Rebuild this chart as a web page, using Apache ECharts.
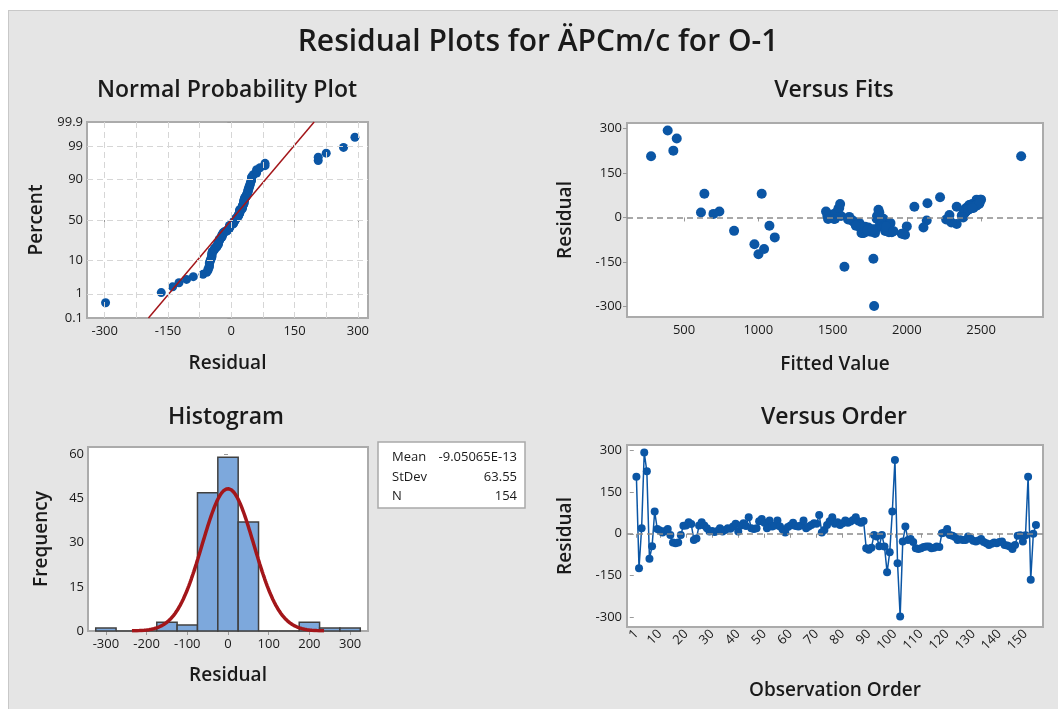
<!DOCTYPE html>
<html>
<head>
<meta charset="utf-8">
<script src="https://cdn.jsdelivr.net/npm/echarts@6/dist/echarts.min.js"></script>
<style>
html, body { margin: 0; padding: 0; background: #fff; }
#bg { position: absolute; left: 8px; top: 10px; right: 0; bottom: 0; background: #e5e5e5; border-top: 1px solid #c8c8c8; border-left: 1px solid #c8c8c8; }
#chart { position: absolute; left: 0; top: 0; width: 1058px; height: 709px; }
</style>
</head>
<body>
<div id="bg"></div>
<div id="chart"></div>
<script>
const mainTitle = 'Residual Plots for ÄPCm/c for O-1';

// residuals in observation order
const residuals = [
  206, -124, 20, 293, 225, -90, -45, 80, 17, 12,
  5, 10, 17, -4, -31, -34, -31, -4, 29, 30,
  42, 35, -22, -17, 30, 42, 30, 20, 8, 10,
  6, 10, 20, 8, 14, 20, 18, 26, 36, 8,
  30, 38, 28, 60, 20, 17, 20, 45, 53, 40,
  20, 48, 26, 30, 48, 26, 15, 5, 24, 30,
  40, 28, 26, 30, 48, 20, 26, 32, 38, 36,
  68, 5, 14, 32, 45, 60, 36, 42, 32, 38,
  48, 40, 44, 50, 60, 44, 40, 46, -52, -58,
  -50, -4, -10, -45, -4, -46, -139, -67, 80, 266,
  -106, -298, -28, 26, -22, -19, -30, -52, -55, -52,
  -48, -46, -46, -52, -50, -46, -48, 2, 5, 17,
  -4, -7, -12, -22, -20, -22, -22, -10, -18, -25,
  -28, -24, -19, -30, -34, -40, -36, -31, -34, -30,
  -28, -40, -42, -46, -55, -40, -7, -5, -28, -5,
  206, -166, 0, 32
];

// fitted values, same order
const fitted = [
  278, 1001, 738, 390, 428, 974, 837, 637, 614, 698,
  1465, 1501, 1528, 1517, 1685, 1741, 1719, 1607, 1539, 2400,
  2420, 2410, 2336, 2300, 2395, 2430, 2405, 2385, 2375, 2380,
  2370, 2382, 2392, 2287, 2388, 2398, 2390, 2402, 2051, 2378,
  2415, 2425, 2408, 2470, 2396, 2386, 2394, 2440, 2485, 2435,
  1456, 2460, 2412, 2418, 2465, 2406, 2384, 2372, 2404, 2422,
  2438, 2414, 2410, 2428, 2139, 2396, 2412, 2432, 2445, 2442,
  2224, 1557, 1520, 1545, 1551, 2495, 2336, 2450, 2448, 2455,
  2478, 2462, 2472, 2490, 2500, 2480, 2468, 2488, 1703, 1988,
  1899, 1797, 1629, 1854, 1842, 1865, 1775, 1111, 1023, 451,
  1039, 1780, 1075, 1809, 1820, 1681, 1831, 1710, 1966, 1786,
  1760, 1741, 1870, 1695, 1880, 1750, 1725, 1612, 1800, 1815,
  1620, 2265, 1640, 1887, 1660, 1825, 1835, 2134, 1648, 1672,
  1845, 1665, 1890, 2000, 2112, 1730, 1690, 1850, 1700, 1860,
  1678, 1790, 1735, 1910, 1975, 1770, 1605, 1470, 1657, 1510,
  2770, 1580, 2380, 2440
];

const histCenters = [-300, -250, -200, -150, -100, -50, 0, 50, 100, 150, 200, 250, 300];
const histCounts = [1, 0, 0, 3, 2, 47, 59, 37, 0, 0, 3, 1, 1];
const binWidth = 50;

const statMean = -9.05065e-13;
const statMeanText = '-9.05065E-13';
const statStDev = 63.55;
const statN = 154;
const curveFrom = -236, curveTo = 236;

const pctTicks = [0.1, 1, 10, 50, 90, 99, 99.9];
const residTicks = [-300, -150, 0, 150, 300];
const normGridX = [-300, -225, -150, -75, 0, 75, 150, 225, 300];
const fitTicks = [500, 1000, 1500, 2000, 2500];
const histTicks = [-300, -200, -100, 0, 100, 200, 300];
const freqTicks = [0, 15, 30, 45, 60];
const orderTicks = [1, 10, 20, 30, 40, 50, 60, 70, 80, 90, 100, 110, 120, 130, 140, 150];

const FONT = "'Open Sans', 'Noto Sans', sans-serif";
const INK = '#1a1a1a';
const BLUE = '#0b56a5';
const RED = '#a3161a';

// inverse normal cdf (Acklam), used for the probability axis
function probit(p) {
  const a = [-3.969683028665376e+01, 2.209460984245205e+02, -2.759285104469687e+02, 1.383577518672690e+02, -3.066479806614716e+01, 2.506628277459239e+00];
  const b = [-5.447609879822406e+01, 1.615858368580409e+02, -1.556989798598866e+02, 6.680131188771972e+01, -1.328068155288572e+01];
  const c = [-7.784894002430293e-03, -3.223964580411365e-01, -2.400758277161838e+00, -2.549732539343734e+00, 4.374664141464968e+00, 2.938163982698783e+00];
  const d = [7.784695709041462e-03, 3.224671290700398e-01, 2.445134137142996e+00, 3.754408661907416e+00];
  const plow = 0.02425;
  let q, r;
  if (p < plow) {
    q = Math.sqrt(-2 * Math.log(p));
    return (((((c[0]*q+c[1])*q+c[2])*q+c[3])*q+c[4])*q+c[5]) / ((((d[0]*q+d[1])*q+d[2])*q+d[3])*q+1);
  }
  if (p <= 1 - plow) {
    q = p - 0.5; r = q * q;
    return (((((a[0]*r+a[1])*r+a[2])*r+a[3])*r+a[4])*r+a[5])*q / (((((b[0]*r+b[1])*r+b[2])*r+b[3])*r+b[4])*r+1);
  }
  q = Math.sqrt(-2 * Math.log(1 - p));
  return -(((((c[0]*q+c[1])*q+c[2])*q+c[3])*q+c[4])*q+c[5]) / ((((d[0]*q+d[1])*q+d[2])*q+d[3])*q+1);
}

const zTicks = pctTicks.map(p => probit(p / 100));
const zLo = zTicks[0], zHi = zTicks[zTicks.length - 1];

const n = residuals.length;
const sorted = residuals.slice().sort((a, b) => a - b);
const normPts = sorted.map((r, i) => [r, probit((i + 1 - 0.3) / (n + 0.4))]);
const normLine = [[statMean + statStDev * zLo, zLo], [statMean + statStDev * zHi, zHi]];

const histData = histCenters.map((c, i) => [c - binWidth / 2, c + binWidth / 2, histCounts[i]]);
const curve = [];
for (let x = curveFrom; x <= curveTo; x += 2) {
  const z = (x - statMean) / statStDev;
  curve.push([x, statN * binWidth / (statStDev * Math.sqrt(2 * Math.PI)) * Math.exp(-0.5 * z * z)]);
}

const fitsPts = fitted.map((f, i) => [f, residuals[i]]);
const orderPts = residuals.map((r, i) => [i + 1, r]);

const grid = { show: true, backgroundColor: '#fff', borderColor: '#ababab', borderWidth: 2, outerBoundsMode: 'none' };
const tick = { show: true, length: 4, lineStyle: { color: '#9a9a9a' } };
const lbl = { color: INK, fontSize: 13, fontFamily: FONT };
const nameStyle = { color: INK, fontSize: 19, fontWeight: 600, fontFamily: FONT };
const titleStyle = { color: INK, fontSize: 23, fontWeight: 600, fontFamily: FONT };
const boxFont = '13px ' + FONT;

function axis(gi, min, max, o) {
  return Object.assign({
    type: 'value', gridIndex: gi, min: min, max: max,
    axisLine: { show: false }, splitLine: { show: false },
    nameLocation: 'middle', nameTextStyle: nameStyle
  }, o);
}

const zeroLine = {
  silent: true, symbol: 'none', label: { show: false },
  lineStyle: { color: '#8c8c8c', type: [6, 4], width: 1.5 },
  data: [{ yAxis: 0 }]
};

const chart = echarts.init(document.getElementById('chart'));
chart.setOption({
  animation: false,
  textStyle: { fontFamily: FONT },
  title: [
    { text: mainTitle, left: 538, top: 27, textAlign: 'center', padding: 0, textStyle: Object.assign({}, titleStyle, { fontSize: 30 }) },
    { text: 'Normal Probability Plot', left: 227, top: 79, textAlign: 'center', padding: 0, textStyle: titleStyle },
    { text: 'Versus Fits', left: 834, top: 79, textAlign: 'center', padding: 0, textStyle: titleStyle },
    { text: 'Histogram', left: 226, top: 406, textAlign: 'center', padding: 0, textStyle: titleStyle },
    { text: 'Versus Order', left: 834, top: 406, textAlign: 'center', padding: 0, textStyle: titleStyle }
  ],
  grid: [
    Object.assign({ left: 87, top: 122, width: 281, height: 196 }, grid),
    Object.assign({ left: 627, top: 123, width: 416, height: 194 }, grid),
    Object.assign({ left: 88, top: 447, width: 280, height: 184 }, grid),
    Object.assign({ left: 627, top: 445, width: 416, height: 182 }, grid)
  ],
  xAxis: [
    axis(0, -342, 324, { name: 'Residual', nameGap: 36,
      axisTick: Object.assign({ customValues: residTicks }, tick),
      axisLabel: Object.assign({ customValues: residTicks, margin: 7 }, lbl) }),
    axis(1, 116, 2917, { name: 'Fitted Value', nameGap: 38,
      axisTick: Object.assign({ customValues: fitTicks }, tick),
      axisLabel: Object.assign({ customValues: fitTicks, margin: 7, formatter: v => String(v) }, lbl) }),
    axis(2, -344, 344, { name: 'Residual', nameGap: 35,
      axisTick: Object.assign({ customValues: histTicks }, tick),
      axisLabel: Object.assign({ customValues: histTicks, margin: 7 }, lbl) }),
    axis(3, -2.6, 156.7, { name: 'Observation Order', nameGap: 54,
      axisTick: Object.assign({ customValues: orderTicks }, tick),
      axisLabel: Object.assign({ customValues: orderTicks, margin: 5, rotate: 45 }, lbl) })
  ],
  yAxis: [
    axis(0, zLo, zHi, { name: 'Percent', nameGap: 41,
      axisTick: Object.assign({ customValues: zTicks }, tick),
      axisLabel: Object.assign({ customValues: zTicks, margin: 4,
        formatter: v => { const i = zTicks.findIndex(z => Math.abs(z - v) < 1e-6); return i < 0 ? '' : String(pctTicks[i]); } }, lbl) }),
    axis(1, -335, 318, { name: 'Residual', nameGap: 52,
      axisTick: Object.assign({ customValues: residTicks }, tick),
      axisLabel: Object.assign({ customValues: residTicks, margin: 5 }, lbl) }),
    axis(2, 0, 62.5, { name: 'Frequency', nameGap: 37,
      axisTick: Object.assign({ customValues: freqTicks }, tick),
      axisLabel: Object.assign({ customValues: freqTicks, margin: 4 }, lbl) }),
    axis(3, -336, 320, { name: 'Residual', nameGap: 52,
      axisTick: Object.assign({ customValues: residTicks }, tick),
      axisLabel: Object.assign({ customValues: residTicks, margin: 5 }, lbl) })
  ],
  series: [
    // dashed reference grid of the probability plot
    { type: 'scatter', xAxisIndex: 0, yAxisIndex: 0, data: [],
      markLine: { silent: true, symbol: 'none', label: { show: false },
        lineStyle: { color: '#d6d6d6', type: [6, 4], width: 1 },
        data: normGridX.map(x => ({ xAxis: x })).concat(zTicks.slice(1, -1).map(z => ({ yAxis: z }))) } },
    { type: 'line', xAxisIndex: 0, yAxisIndex: 0, data: normLine, symbol: 'none',
      lineStyle: { color: RED, width: 1.5 } },
    { type: 'scatter', xAxisIndex: 0, yAxisIndex: 0, data: normPts, symbolSize: 9,
      itemStyle: { color: BLUE, opacity: 1 } },

    { type: 'scatter', xAxisIndex: 1, yAxisIndex: 1, data: [], markLine: zeroLine },
    { type: 'scatter', xAxisIndex: 1, yAxisIndex: 1, data: fitsPts, symbolSize: 10,
      itemStyle: { color: BLUE, opacity: 1 } },

    { type: 'custom', xAxisIndex: 2, yAxisIndex: 2, data: histData, silent: true,
      renderItem: function (params, api) {
        const p0 = api.coord([api.value(0), api.value(2)]);
        const p1 = api.coord([api.value(1), 0]);
        return { type: 'rect',
          shape: { x: p0[0], y: p0[1], width: p1[0] - p0[0], height: p1[1] - p0[1] },
          style: { fill: '#7da8dc', stroke: '#404040', lineWidth: 1.5 } };
      } },
    { type: 'line', xAxisIndex: 2, yAxisIndex: 2, data: curve, symbol: 'none', silent: true,
      lineStyle: { color: RED, width: 3.5 } },

    { type: 'scatter', xAxisIndex: 3, yAxisIndex: 3, data: [], markLine: zeroLine },
    { type: 'line', xAxisIndex: 3, yAxisIndex: 3, data: orderPts, symbol: 'circle', symbolSize: 8,
      showAllSymbol: true,
      lineStyle: { color: BLUE, width: 1.5 }, itemStyle: { color: BLUE } }
  ],
  graphic: [
    { type: 'rect', shape: { x: 378, y: 442, width: 147, height: 66 },
      style: { fill: '#fff', stroke: '#a9a9a9', lineWidth: 1.5 } },
    { type: 'text', x: 392, y: 457, style: { text: 'Mean', font: boxFont, fill: INK, verticalAlign: 'middle' } },
    { type: 'text', x: 517, y: 457, style: { text: statMeanText, font: boxFont, fill: INK, align: 'right', verticalAlign: 'middle' } },
    { type: 'text', x: 392, y: 477, style: { text: 'StDev', font: boxFont, fill: INK, verticalAlign: 'middle' } },
    { type: 'text', x: 517, y: 477, style: { text: statStDev.toFixed(2), font: boxFont, fill: INK, align: 'right', verticalAlign: 'middle' } },
    { type: 'text', x: 392, y: 496, style: { text: 'N', font: boxFont, fill: INK, verticalAlign: 'middle' } },
    { type: 'text', x: 517, y: 496, style: { text: String(statN), font: boxFont, fill: INK, align: 'right', verticalAlign: 'middle' } }
  ]
});
</script>
</body>
</html>
